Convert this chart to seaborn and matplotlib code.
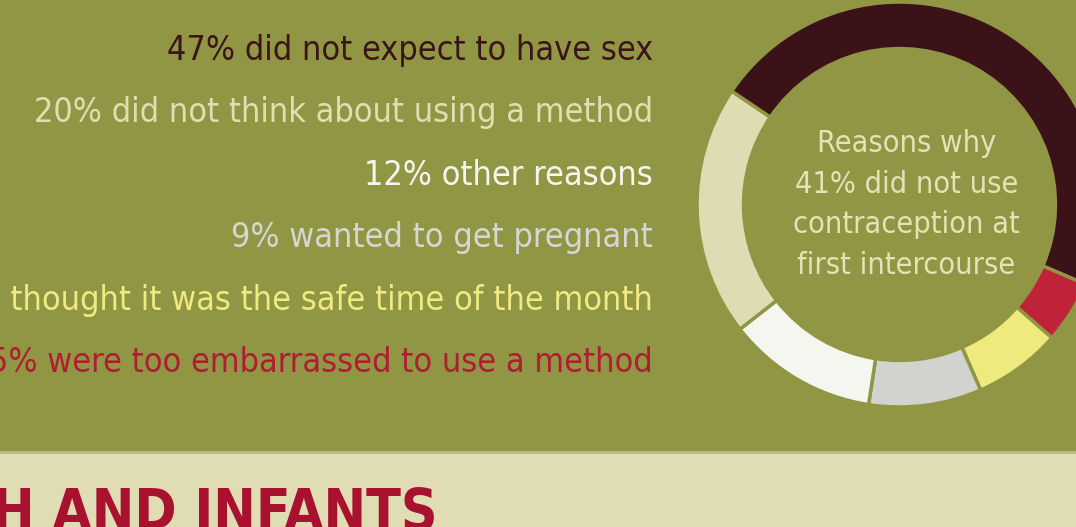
import matplotlib
matplotlib.use("Agg")
import matplotlib.pyplot as plt
import matplotlib.font_manager as fm
import seaborn as sns

# ---- data ----
reasons = [
    "did not expect to have sex",
    "did not think about using a method",
    "other reasons",
    "wanted to get pregnant",
    "thought it was the safe time of the month",
    "were too embarrassed to use a method",
]
shares = [47, 20, 12, 9, 7, 5]
reason_colors = ["#3c1219", "#dfdbb2", "#f6f6f0", "#d2d2ce", "#eeea7e", "#c0223a"]
text_colors = ["#3a1418", "#e2deb2", "#f6f6f0", "#d6d6d2", "#efeb80", "#b01c30"]
# ring order (clockwise from upper-left)
ring_order = [0, 5, 4, 3, 2, 1]
center_text = "Reasons why\n41% did not use\ncontraception at\nfirst intercourse"
heading = "H AND INFANTS"

OLIVE = "#919645"
BEIGE = "#e0ddb5"

sns.set_theme(style="white")

# pick the narrowest installed face available
def pick_font(bold=False):
    best = None
    for f in fm.fontManager.ttflist:
        name = f.name.lower()
        st = str(f.stretch).lower()
        narrow = ("narrow" in name or "condensed" in name or "condensed" in st
                  or "narrow" in f.fname.lower() or "condensed" in f.fname.lower())
        if not narrow or f.style != "normal":
            continue
        w = f.weight if isinstance(f.weight, int) else (700 if "bold" in str(f.weight) else 400)
        if bold != (w >= 600):
            continue
        best = f.fname
        break
    if best:
        return fm.FontProperties(fname=best)
    fp = fm.FontProperties(family="DejaVu Sans")
    if bold:
        fp.set_weight("bold")
    return fp

fp_reg = pick_font(False)
fp_bold = pick_font(True)

W, H = 1076, 527
fig = plt.figure(figsize=(W / 100, H / 100), dpi=100, facecolor=OLIVE)
renderer = fig.canvas.get_renderer()

def fit_size(text, fp, target_px, ref=20):
    t = fig.text(0, 0, text, fontproperties=fp, fontsize=ref)
    w = t.get_window_extent(renderer).width
    t.remove()
    return ref * target_px / w

# background axes in pixel coordinates
bg = fig.add_axes([0, 0, 1, 1])
bg.set_xlim(0, W)
bg.set_ylim(H, 0)
bg.axis("off")
bg.set_facecolor(OLIVE)
bg.axhspan(452, H, color=BEIGE, zorder=0)
bg.axhline(452, color="#bdb98c", lw=2, zorder=1)

# text list
size_list = fit_size(f"{shares[0]}% {reasons[0]}", fp_reg, 485)
for i, (pct, txt) in enumerate(zip(shares, reasons)):
    bg.text(653, 60 + i * 62.4, f"{pct}% {txt}", ha="right", va="baseline",
            fontproperties=fp_reg, fontsize=size_list, color=text_colors[i], zorder=3)

# heading
size_head = fit_size(heading, fp_bold, 445)
bg.text(-8, 530, heading, ha="left", va="baseline", fontproperties=fp_bold,
        fontsize=size_head, color="#a8122f", zorder=3)

# donut axes
cx, cy, R = 899.5, 204.5, 202.5
ax = fig.add_axes([(cx - R) / W, (H - cy - R) / H, 2 * R / W, 2 * R / H])
ax.set_aspect("equal")
ax.axis("off")
vals = [shares[k] for k in ring_order]
cols = [reason_colors[k] for k in ring_order]
ax.pie(vals, colors=cols, startangle=146, counterclock=False, radius=1,
       wedgeprops=dict(width=0.23, edgecolor=OLIVE, linewidth=2.5))
ax.set_xlim(-1, 1)
ax.set_ylim(-1, 1)
size_c = fit_size("first intercourse", fp_reg, 217)
ax.text(0.035, 0.0, center_text, ha="center", va="center", fontproperties=fp_reg,
        fontsize=size_c, color="#e6e2b6", linespacing=1.5)

fig.savefig("out.png", dpi=100, facecolor=OLIVE)
